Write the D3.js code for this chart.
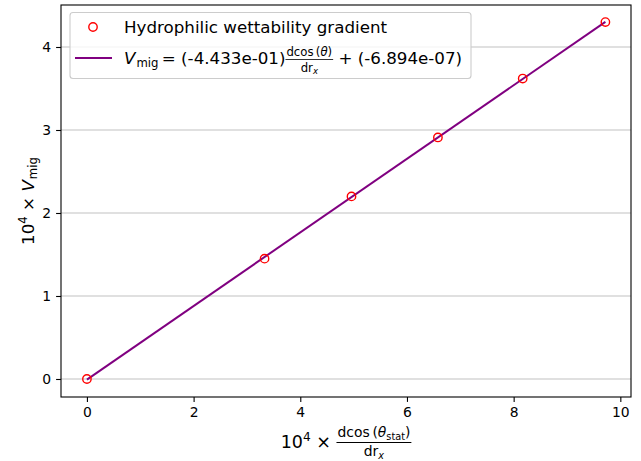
<!DOCTYPE html>
<html>
<head>
<meta charset="utf-8">
<script src="https://cdn.jsdelivr.net/npm/d3@7"></script>
<style>
  body { margin: 0; background: #fff; }
  text { font-family: "DejaVu Sans", sans-serif; white-space: pre; }
</style>
</head>
<body>
<script>
// data
const gradX = [0, 3.33, 4.96, 6.58, 8.17, 9.72];
const vmig = [0, 1.45, 2.20, 2.91, 3.62, 4.30];
const slope = 0.4433;
const intercept = -6.894e-07 * 1e4;
const xTicks = [0, 2, 4, 6, 8, 10];
const yTicks = [0, 1, 2, 3, 4];
const legendLabels = ["Hydrophilic wettability gradient"];

const W = 641, H = 461;
const margin = {top: 5, right: 10, bottom: 64, left: 61};
const width = W - margin.left - margin.right;
const height = H - margin.top - margin.bottom;

const x = d3.scaleLinear().domain([-0.486, 10.2]).range([0, width]);
const y = d3.scaleLinear().domain([-0.217, 4.506]).range([height, 0]);

const svg = d3.select("body").append("svg")
  .attr("width", W).attr("height", H);
const g = svg.append("g")
  .attr("transform", "translate(" + margin.left + "," + margin.top + ")");

// horizontal grid
g.selectAll(".grid").data(yTicks).enter().append("line")
  .attr("x1", 0).attr("x2", width)
  .attr("y1", d => y(d)).attr("y2", d => y(d))
  .attr("stroke", "#b0b0b0").attr("stroke-width", 1.1).attr("stroke-opacity", 0.8);

// fit line
const xmax = d3.max(gradX);
g.append("path")
  .datum([0, xmax])
  .attr("fill", "none").attr("stroke", "purple").attr("stroke-width", 2)
  .attr("d", d3.line().x(d => x(d)).y(d => y(slope * d + intercept)));

// points
g.selectAll(".pt").data(gradX).enter().append("circle")
  .attr("cx", d => x(d)).attr("cy", (d, i) => y(vmig[i]))
  .attr("r", 4.2).attr("fill", "none").attr("stroke", "red").attr("stroke-width", 1.4);

// axes
const xAxis = g.append("g").attr("transform", "translate(0," + height + ")")
  .call(d3.axisBottom(x).tickValues(xTicks).tickSize(4.9).tickPadding(4.9).tickFormat(d3.format("d")));
const yAxis = g.append("g")
  .call(d3.axisLeft(y).tickValues(yTicks).tickSize(4.9).tickPadding(4.9).tickFormat(d3.format("d")));
[xAxis, yAxis].forEach(a => {
  a.select(".domain").remove();
  a.selectAll("text").attr("font-size", 13.9).attr("fill", "#000")
    .attr("font-family", "DejaVu Sans");
  a.selectAll("line").attr("stroke", "#000").attr("stroke-width", 1.1);
});
g.append("rect").attr("width", width).attr("height", height)
  .attr("fill", "none").attr("stroke", "#000").attr("stroke-width", 1.1);

// lay out runs of text left to right; returns total width
function runs(parent, x0, y0, items) {
  let cx = x0;
  items.forEach(it => {
    const t = parent.append("text")
      .attr("x", cx).attr("y", y0 + (it.dy || 0))
      .attr("font-size", it.size)
      .attr("font-style", it.italic ? "italic" : "normal")
      .attr("fill", "#000")
      .text(it.t);
    cx += t.node().getComputedTextLength() + (it.gap || 0);
  });
  return cx - x0;
}
function measure(items) {
  const tmp = svg.append("g").attr("opacity", 0);
  const w = runs(tmp, 0, 0, items);
  tmp.remove();
  return w;
}

// legend
const lg = svg.append("g");
lg.append("rect").attr("x", 70).attr("y", 12.5).attr("width", 401).attr("height", 66)
  .attr("rx", 3).attr("fill", "#fff").attr("fill-opacity", 0.8)
  .attr("stroke", "#ccc").attr("stroke-width", 1.1);
lg.append("circle").attr("cx", 93).attr("cy", 27).attr("r", 4.2)
  .attr("fill", "none").attr("stroke", "red").attr("stroke-width", 1.4);
lg.append("text").attr("x", 124).attr("y", 33).attr("font-size", 16.7).text(legendLabels[0]);
lg.append("line").attr("x1", 75).attr("x2", 112).attr("y1", 58).attr("y2", 58)
  .attr("stroke", "purple").attr("stroke-width", 2);
{
  let cx = 124;
  cx += runs(lg, cx, 64, [{t: "V", size: 16.7, italic: true, gap: 1}]);
  cx += runs(lg, cx, 67, [{t: "mig", size: 11.7}]);
  cx += runs(lg, cx, 64, [{t: "\u2009= (-4.433e-01)", size: 16.7}]);
  const num = [{t: "dcos\u2009(", size: 11.7}, {t: "\u03B8", size: 11.7, italic: true}, {t: ")", size: 11.7}];
  const den = [{t: "dr", size: 11.7}, {t: "x", size: 8.5, italic: true, dy: 2}];
  const nw = measure(num), dw = measure(den);
  const fw = Math.max(nw, dw) + 2;
  runs(lg, cx + (fw - nw) / 2, 56, num);
  lg.append("line").attr("x1", cx).attr("x2", cx + fw).attr("y1", 59.5).attr("y2", 59.5)
    .attr("stroke", "#000").attr("stroke-width", 0.8);
  runs(lg, cx + (fw - dw) / 2, 72, den);
  cx += fw;
  runs(lg, cx, 64, [{t: " + (-6.894e-07)", size: 16.7}]);
}

// x label
{
  const xl = svg.append("g");
  const pre = [{t: "10", size: 17.5}, {t: "4", size: 12.2, dy: -7}, {t: " \u00D7 ", size: 17.5}];
  const num = [{t: "dcos\u2009(", size: 13.9}, {t: "\u03B8", size: 13.9, italic: true}, {t: "stat", size: 9.7, dy: 3}, {t: ")", size: 13.9}];
  const den = [{t: "dr", size: 13.9}, {t: "x", size: 9.7, italic: true, dy: 3}];
  const pw = measure(pre), nw = measure(num), dw = measure(den);
  const fw = Math.max(nw, dw) + 2;
  const total = pw + fw;
  let cx = margin.left + width / 2 - total / 2;
  runs(xl, cx, 448, pre);
  cx += pw;
  runs(xl, cx + (fw - nw) / 2, 437, num);
  xl.append("line").attr("x1", cx).attr("x2", cx + fw).attr("y1", 442.5).attr("y2", 442.5)
    .attr("stroke", "#000").attr("stroke-width", 1);
  runs(xl, cx + (fw - dw) / 2, 456, den);
}

// y label
{
  const items = [{t: "10", size: 16.7}, {t: "4", size: 11.7, dy: -7}, {t: " \u00D7 ", size: 16.7},
    {t: "V", size: 16.7, italic: true, gap: 1}, {t: "mig", size: 11.7, dy: 3}];
  const w = measure(items);
  const yl = svg.append("g")
    .attr("transform", "translate(34," + (margin.top + height / 2) + ") rotate(-90)");
  runs(yl, -w / 2, 0, items);
}
</script>
</body>
</html>
